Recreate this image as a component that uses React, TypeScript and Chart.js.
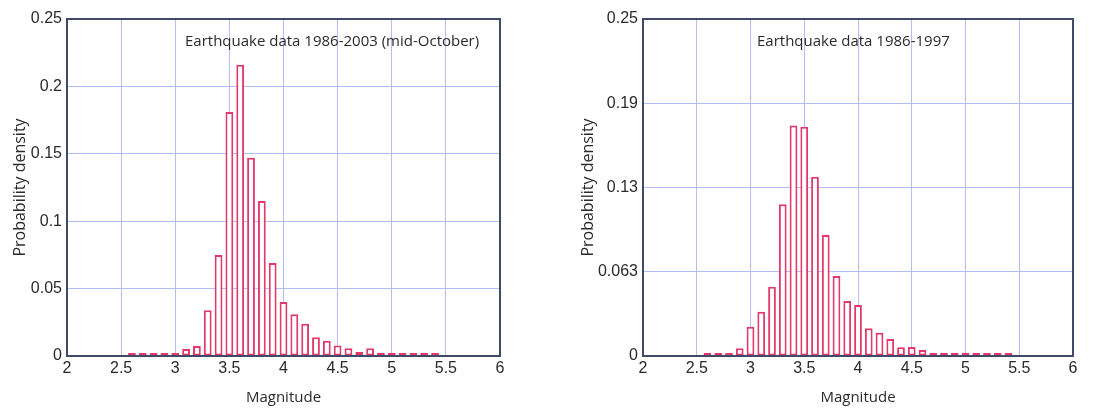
import React, { useEffect, useRef } from "react";
import { Chart, registerables } from "chart.js";

Chart.register(...registerables);

// ---------- data ----------
const BIN_CENTERS = [
  2.6, 2.7, 2.8, 2.9, 3.0, 3.1, 3.2, 3.3, 3.4, 3.5, 3.6, 3.7, 3.8, 3.9, 4.0,
  4.1, 4.2, 4.3, 4.4, 4.5, 4.6, 4.7, 4.8, 4.9, 5.0, 5.1, 5.2, 5.3, 5.4,
];

const DENSITY_1986_2003 = [
  0.0005, 0.0005, 0.0005, 0.0005, 0.0005, 0.0052, 0.0074, 0.034, 0.075, 0.181,
  0.216, 0.147, 0.115, 0.069, 0.04, 0.031, 0.024, 0.014, 0.0114, 0.0077,
  0.0057, 0.003, 0.0057, 0.0015, 0.0025, 0.0008, 0.0005, 0.0015, 0.0008,
];

const DENSITY_1986_1997 = [
  0.0005, 0.0005, 0.0005, 0.0057, 0.0217, 0.0329, 0.0514, 0.1126, 0.171,
  0.17, 0.133, 0.0897, 0.0593, 0.0408, 0.0378, 0.0205, 0.0173, 0.0126, 0.0064,
  0.0067, 0.0044, 0.0015, 0.0015, 0.0025, 0.0025, 0.001, 0.001, 0.001, 0.001,
];

const X_TICKS = [2, 2.5, 3, 3.5, 4, 4.5, 5, 5.5, 6];
const X_LABELS = ["2", "2.5", "3", "3.5", "4", "4.5", "5", "5.5", "6"];

const LEFT_Y_TICKS = [0, 0.05, 0.1, 0.15, 0.2, 0.25];
const LEFT_Y_LABELS = ["0", "0.05", "0.1", "0.15", "0.2", "0.25"];

const RIGHT_Y_TICKS = [0, 0.0625, 0.125, 0.1875, 0.25];
const RIGHT_Y_LABELS = ["0", "0.063", "0.13", "0.19", "0.25"];

const TITLE_LEFT = "Earthquake data 1986-2003 (mid-October)";
const TITLE_RIGHT = "Earthquake data 1986-1997";
const X_TITLE = "Magnitude";
const Y_TITLE = "Probability density";

// ---------- styles ----------
const BAR_COLOR = "#e4386c";
const GRID_COLOR = "#b3bff0";
const FRAME_COLOR = "#3e4a68";
const TEXT_COLOR = "#2a2a2a";
const TICK_FONT = { family: "'Liberation Sans', Arial, sans-serif", size: 16 };
const X_TITLE_FONT = { family: "'Open Sans', 'Noto Sans', sans-serif", size: 15 };
const Y_TITLE_FONT = { family: "'Open Sans', 'Noto Sans', sans-serif", size: 16 };

const labelFor = (ticks: number[], labels: string[]) => (v: any) => {
  const idx = ticks.findIndex((t) => Math.abs(t - Number(v)) < 1e-9);
  return idx >= 0 ? labels[idx] : "";
};

const framePlugin = {
  id: "frameAndNote",
  afterDraw(chart: any, _args: any, opts: any) {
    const { ctx, chartArea } = chart;
    ctx.save();
    ctx.strokeStyle = FRAME_COLOR;
    ctx.lineWidth = 2;
    ctx.strokeRect(
      chartArea.left,
      chartArea.top,
      chartArea.right - chartArea.left,
      chartArea.bottom - chartArea.top
    );
    if (opts && opts.text) {
      ctx.font = `${opts.size}px 'Open Sans', 'Noto Sans', sans-serif`;
      ctx.fillStyle = TEXT_COLOR;
      ctx.textAlign = "left";
      ctx.textBaseline = "middle";
      ctx.fillText(opts.text, chartArea.left + opts.dx, chartArea.top + opts.dy);
    }
    ctx.restore();
  },
};

type HistProps = {
  values: number[];
  yTicks: number[];
  yLabels: string[];
  title: string;
  titleDx: number;
  left: number;
  width: number;
  padLeft: number;
  padRight: number;
  yAxisWidth: number;
};

function Histogram(p: HistProps) {
  const ref = useRef<HTMLCanvasElement | null>(null);
  useEffect(() => {
    const canvas = ref.current;
    if (!canvas) return;
    const yStep = p.yTicks[1] - p.yTicks[0];
    const xStep = X_TICKS[1] - X_TICKS[0];
    const chart = new Chart(canvas, {
      type: "bar",
      data: {
        datasets: [
          {
            data: BIN_CENTERS.map((x, i) => ({ x, y: p.values[i] })),
            backgroundColor: "#ffffff",
            borderColor: BAR_COLOR,
            borderWidth: 2,
            borderSkipped: false,
            barPercentage: 0.72,
            categoryPercentage: 1,
            minBarLength: 3,
          } as any,
        ],
      },
      options: {
        responsive: false,
        animation: false,
        devicePixelRatio: 1,
        layout: { padding: { left: p.padLeft, right: p.padRight, top: 19, bottom: 0 } },
        plugins: {
          legend: { display: false },
          tooltip: { enabled: false },
          frameAndNote: { text: p.title, dx: p.titleDx, dy: 23, size: 15 },
        } as any,
        scales: {
          x: {
            type: "linear",
            min: X_TICKS[0],
            max: X_TICKS[X_TICKS.length - 1],
            offset: false,
            grid: { color: GRID_COLOR, lineWidth: 1, drawTicks: false, offset: false },
            border: { display: false },
            ticks: {
              stepSize: xStep,
              color: TEXT_COLOR,
              font: TICK_FONT,
              padding: 3,
              maxRotation: 0,
              autoSkip: false,
              callback: labelFor(X_TICKS, X_LABELS),
            },
            title: {
              display: true,
              text: X_TITLE,
              color: TEXT_COLOR,
              font: X_TITLE_FONT,
              padding: { top: 0, bottom: 1 },
            },
            afterFit: (s: any) => {
              s.height = 52;
            },
          },
          y: {
            type: "linear",
            min: p.yTicks[0],
            max: p.yTicks[p.yTicks.length - 1],
            grid: { color: GRID_COLOR, lineWidth: 1, drawTicks: false },
            border: { display: false },
            ticks: {
              stepSize: yStep,
              color: TEXT_COLOR,
              font: TICK_FONT,
              padding: 5,
              callback: labelFor(p.yTicks, p.yLabels),
            },
            title: {
              display: true,
              text: Y_TITLE,
              color: TEXT_COLOR,
              font: Y_TITLE_FONT,
              padding: { top: 11, bottom: 0 },
            },
            afterFit: (s: any) => {
              s.width = p.yAxisWidth;
            },
          },
        },
      } as any,
      plugins: [framePlugin],
    });
    return () => chart.destroy();
  }, []);
  return (
    <canvas
      ref={ref}
      width={p.width}
      height={408}
      style={{ position: "absolute", left: p.left, top: 0, width: p.width, height: 408 }}
    />
  );
}

export default function App() {
  return (
    <div
      style={{
        position: "absolute",
        left: 0,
        top: 0,
        width: 1097,
        height: 408,
        background: "#ffffff",
        overflow: "hidden",
      }}
    >
      <Histogram
        values={DENSITY_1986_2003}
        yTicks={LEFT_Y_TICKS}
        yLabels={LEFT_Y_LABELS}
        title={TITLE_LEFT}
        titleDx={118}
        left={0}
        width={548}
        padLeft={0}
        padRight={48}
        yAxisWidth={67}
      />
      <Histogram
        values={DENSITY_1986_1997}
        yTicks={RIGHT_Y_TICKS}
        yLabels={RIGHT_Y_LABELS}
        title={TITLE_RIGHT}
        titleDx={114}
        left={548}
        width={549}
        padLeft={20}
        padRight={24}
        yAxisWidth={75}
      />
    </div>
  );
}
